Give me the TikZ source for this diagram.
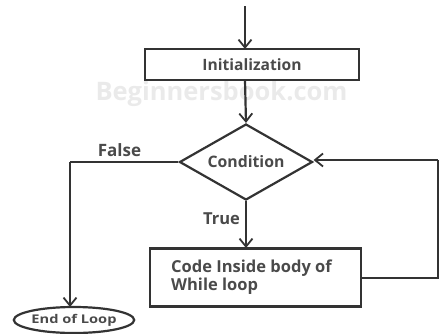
\documentclass[tikz,border=0pt]{standalone}
\usepackage{fontspec}
\setmainfont{Open Sans}
\usetikzlibrary{arrows.meta,shapes.geometric}
\definecolor{ln}{HTML}{333333}
\definecolor{tx}{HTML}{4A4A4A}
\definecolor{wm}{HTML}{EAEAEA}
\begin{document}
\begin{tikzpicture}[x=1pt,y=-1pt,
  every node/.style={font=\bfseries\fontsize{16}{18}\selectfont, text=tx},
  conn/.style={draw=ln, line width=2.2pt},
  arr/.style={conn,-{Straight Barb[length=8pt,width=13pt,line width=1.8pt]}},
  boxa/.style={draw=ln, line width=2.2pt, rectangle, inner sep=0pt},
  dia/.style={draw=ln, line width=2.2pt, diamond, aspect=1.75, inner sep=0pt, minimum width=133pt, minimum height=76pt},
  ell/.style={draw=ln, line width=2.2pt, ellipse, inner sep=0pt, minimum width=108pt, minimum height=26pt}]
\useasboundingbox (0,0) rectangle (440,333);
\node[font=\bfseries\fontsize{25.5}{28}\selectfont, text=wm] (wm) at (221.5,94) {Beginnersbook.com};
\coordinate (start) at (245,6);
\node[boxa, minimum width=214pt, minimum height=31pt, font=\bfseries\fontsize{15.6}{18}\selectfont] (init) at (252,64.5) {Initialization};
\node[dia, font=\bfseries\fontsize{15.8}{18}\selectfont] (cond) at (246,162) {Condition};
\node[boxa, minimum width=211pt, minimum height=58pt] (body) at (255.5,277.5) {};
\node[anchor=west, align=left, inner sep=0pt, font=\bfseries\fontsize{16.5}{18.5}\selectfont] (btext) at (171,277) {Code Inside body of\\While loop};
\node[ell, font=\bfseries\fontsize{12}{13}\selectfont] (end) at (74,320) {\scalebox{1.22}[1]{End of Loop}};
\node[font=\bfseries\fontsize{17}{18}\selectfont] (false) at (119.5,150) {False};
\node[font=\bfseries\fontsize{16.5}{18}\selectfont] (true) at (221.5,219) {True};
\coordinate (lf) at (70,162);
\coordinate (r1) at (438,278);
\coordinate (r2) at (438,160);
\draw[arr] (start) -- (245,49);
\draw[arr] (245,80) -- (cond.north);
\draw[arr] (cond.south) -- (246,248);
\draw[conn] (cond.west) -- (lf);
\draw[arr] (lf) -- (70,307);
\draw[conn] (body.east |- r1) -- (r1) -- (r2);
\draw[arr] (r2) -- (cond.east |- r2);
\end{tikzpicture}
\end{document}
